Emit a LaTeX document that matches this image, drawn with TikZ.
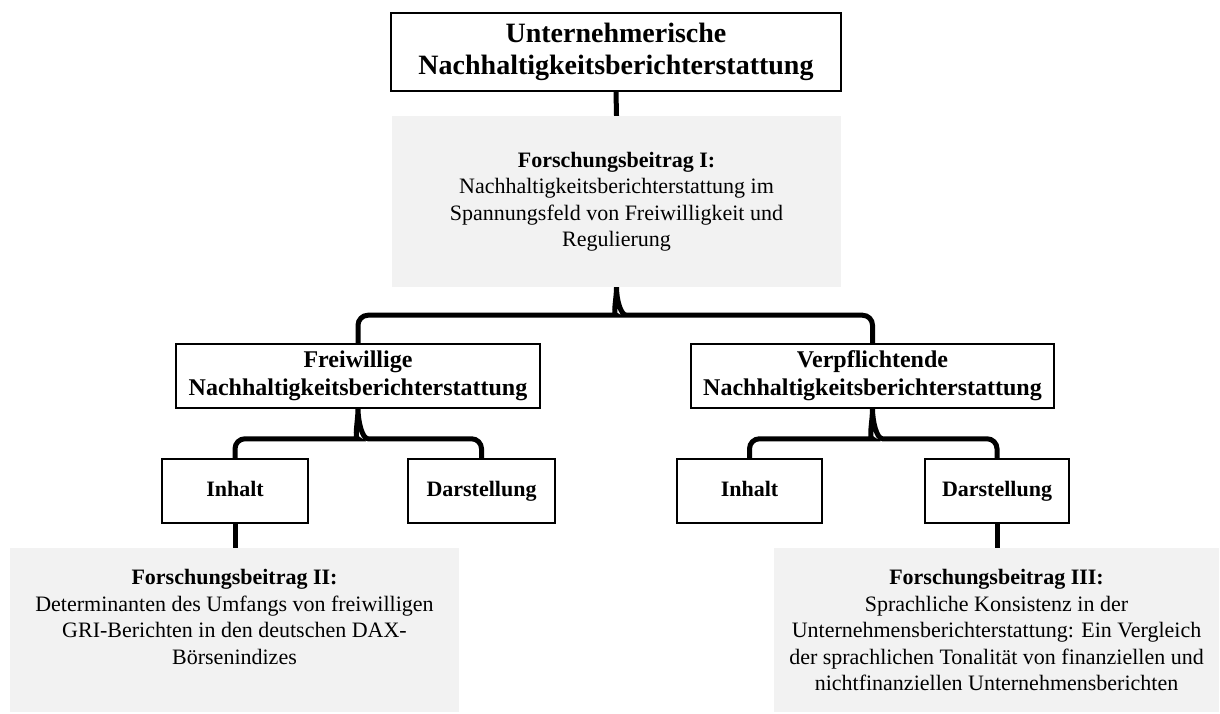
\documentclass[tikz,border=0pt]{standalone}
\usepackage{fontspec}
\setmainfont{Liberation Serif}
\usetikzlibrary{calc}

\definecolor{boxgray}{HTML}{F2F2F2}

\tikzset{
  headbox/.style={draw, line width=1.5pt, align=center, inner sep=0pt,
    font=\bfseries\fontsize{28}{32}\selectfont},
  midbox/.style={draw, line width=1.5pt, align=center, inner sep=0pt,
    minimum height=64pt, font=\bfseries\fontsize{24}{28}\selectfont},
  subbox/.style={draw, line width=1.5pt, align=center, inner sep=0pt,
    minimum height=64pt, text height=16pt, text depth=5pt,
    font=\bfseries\fontsize{22}{26}\selectfont},
  paperbox/.style={fill=boxgray, align=center, inner sep=0pt,
    font=\fontsize{22}{26.5}\selectfont},
  link/.style={line width=5pt},
}

% geschweifte Klammer: Eltern, linkes Kind, rechtes Kind, Abstand
\newcommand{\bracelink}[4]{%
  \draw[link] (#2.north) [rounded corners=10pt] |- ($(#1.south)+(-10,#4)$)
    [sharp corners] .. controls +(6,0) and +(0,12) .. (#1.south)
    .. controls +(0,12) and +(-6,0) .. ($(#1.south)+(10,#4)$)
    [rounded corners=10pt] -| (#3.north);
}

\begin{document}
\begin{tikzpicture}[x=1pt,y=-1pt]
        \useasboundingbox (0,0) rectangle (1220,713);
        % Oberthema
        \node [headbox, minimum width=450pt, minimum height=78pt] (top) at (616,52)
            {Unternehmerische\\Nachhaltigkeitsberichterstattung};
        \node [paperbox, minimum width=449pt, minimum height=171pt] (g1) at (616.5,201.5)
            {\textbf{Forschungsbeitrag I:}\\Nachhaltigkeitsberichterstattung im\\Spannungsfeld von Freiwilligkeit und\\Regulierung};
        \draw [link] (top.south) -- (g1.north);

        % zweite Ebene
        \node [midbox, minimum width=364pt] (fw) at (358,376)
            {Freiwillige\\Nachhaltigkeitsberichterstattung};
        \node [midbox, minimum width=363pt] (vp) at (872.5,376)
            {Verpflichtende\\Nachhaltigkeitsberichterstattung};
        \bracelink{g1}{fw}{vp}{28}

        % dritte Ebene
        \node [subbox, minimum width=146pt] (in1) at (235,491) {Inhalt};
        \node [subbox, minimum width=147pt] (ds1) at (481.5,491) {Darstellung};
        \node [subbox, minimum width=145pt] (in2) at (749.5,491) {Inhalt};
        \node [subbox, minimum width=144pt] (ds2) at (997,491) {Darstellung};
        \bracelink{fw}{in1}{ds1}{30}
        \bracelink{vp}{in2}{ds2}{30}

        % Forschungsbeitraege II und III
        \node [paperbox, minimum width=449pt, minimum height=164pt] (g2) at (234.5,630)
            {\textbf{Forschungsbeitrag II:}\\Determinanten des Umfangs von freiwilligen\\GRI-Berichten in den deutschen DAX-\\Börsenindizes\\\mbox{}};
        \node [paperbox, minimum width=445pt, minimum height=164pt] (g3) at (996.5,630)
            {\textbf{Forschungsbeitrag III:}\\Sprachliche Konsistenz in der\\Unternehmensberichterstattung: Ein Vergleich\\der sprachlichen Tonalität von finanziellen und\\nichtfinanziellen Unternehmensberichten};
        \draw [link] (in1.south) -- (in1.south |- g2.north);
        \draw [link] (ds2.south) -- (ds2.south |- g3.north);
\end{tikzpicture}
\end{document}
